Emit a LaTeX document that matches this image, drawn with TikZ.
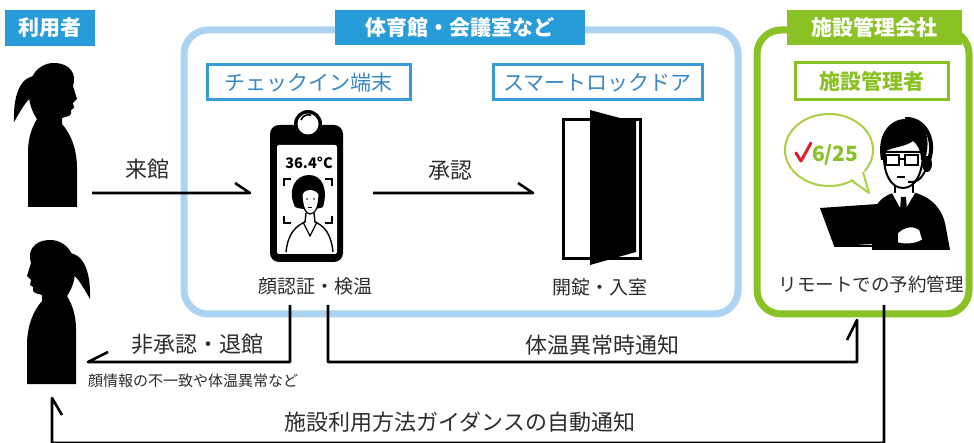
\documentclass[tikz,border=0pt]{standalone}
\usepackage{fontspec}
\setmainfont{Noto Sans CJK JP}
\definecolor{txtgray}{RGB}{45,45,45}
\definecolor{tagblue}{RGB}{40,156,216}
\definecolor{frameblue}{RGB}{172,212,242}
\definecolor{boxblue}{RGB}{55,155,215}
\definecolor{textblue}{RGB}{55,135,195}
\definecolor{leaf}{RGB}{138,194,38}
\definecolor{leaflight}{RGB}{170,208,70}
\definecolor{checkred}{RGB}{220,30,50}

\tikzset{
  woman/.pic={
    % ponytail
    \fill (36,76) .. controls (22,76) and (13,92) .. (14,122)
      .. controls (20,112) and (26,100) .. (33,96) -- cycle;
    % head and upper body
    \fill (28,207) -- (28,152) .. controls (28,138) and (32,127) .. (37,119)
      .. controls (31,110) and (28,100) .. (29,88)
      .. controls (31,70) and (44,62) .. (56,63)
      .. controls (70,64) and (77,74) .. (73,86)
      -- (77,99) -- (73,103) -- (74,108) -- (71,110) -- (71,114)
      .. controls (69,117) and (64,117) .. (62,118)
      -- (62,124) .. controls (70,133) and (77,148) .. (77,168) -- (77,207) -- cycle;
  }
}

\begin{document}
\begin{tikzpicture}[x=1pt,y=-1pt,
  every node/.style={inner sep=0pt,outer sep=0pt},
  txt/.style={text=txtgray,font=\fontsize{22}{24}\selectfont},
  subtxt/.style={text=txtgray,font=\fontsize{19}{22}\selectfont},
  smalltxt/.style={text=txtgray,font=\fontsize{15}{17}\selectfont},
  bluetag/.style={fill=tagblue,text=white,font=\bfseries\fontsize{21}{24}\selectfont},
  greentag/.style={fill=leaf,text=white,font=\bfseries\fontsize{21}{24}\selectfont},
  bluebox/.style={draw=boxblue,line width=3pt,fill=white,text=textblue,font=\fontsize{21}{24}\selectfont},
  greenbox/.style={draw=leaf,line width=3pt,fill=white,text=leaf,font=\bfseries\fontsize{21}{24}\selectfont},
  conn/.style={draw=black,line width=2.6pt,line join=round}
]
\useasboundingbox (0,0) rectangle (974,443);
\fill[white] (0,0) rectangle (974,443);

% group frames
\draw[line width=7pt,draw=frameblue,rounded corners=24pt] (184,30) rectangle (738,314);
\draw[line width=7pt,draw=leaf,rounded corners=24pt] (757,30) rectangle (969,314);

% tags
\node[bluetag,minimum width=90pt,minimum height=36pt] (userTag) at (50,28) {利用者};
\node[bluetag,minimum width=250pt,minimum height=35pt] (venueTag) at (460,27.5) {体育館・会議室など};
\node[greentag,minimum width=175pt,minimum height=35pt] (companyTag) at (874.5,27.5) {施設管理会社};
\node[bluebox,minimum width=203pt,minimum height=35pt] (checkinBox) at (308.5,82.5) {チェックイン端末};
\node[bluebox,minimum width=209pt,minimum height=35pt] (lockBox) at (597.5,82.5) {スマートロックドア};
\node[greenbox,minimum width=153pt,minimum height=37pt] (managerBox) at (871.5,81.5) {施設管理者};

% users
\pic at (0,0) {woman};
\pic[xscale=-1] at (104,177) {woman};

% check-in tablet
\fill[rounded corners=9pt] (270,125) rectangle (343,262);
\fill (308,124) circle (14);
\fill[white] (308,124) circle (10.5);
\draw[line width=1.6pt] (301,120) arc (200:290:8);
\fill[white,rounded corners=2pt] (277,145) rectangle (337,254);
\node[font=\bfseries\fontsize{14.5}{17}\selectfont] (temp) at (309,163) {36.4°C};
\draw[line width=2pt] (284,186) -- (284,179) -- (291,179);
\draw[line width=2pt] (325,179) -- (332,179) -- (332,186);
\draw[line width=2pt] (284,216) -- (284,223) -- (291,223);
\draw[line width=2pt] (325,223) -- (332,223) -- (332,216);
\fill (295,207) .. controls (287,190) and (295,175) .. (309,175)
  .. controls (323,175) and (328,190) .. (323,207)
  .. controls (316,210) and (302,210) .. (295,207) -- cycle;
\filldraw[fill=white,line width=1.2pt] (302,194) .. controls (302,207) and (306,214) .. (310,214)
  .. controls (315,214) and (319,207) .. (319,194)
  .. controls (315,188) and (306,187) .. (302,194) -- cycle;
\fill (302,195) .. controls (305,186) and (312,184) .. (319,192) -- (319,186) -- (302,186) -- cycle;
\fill (307,199) circle (0.9); \fill (314,199) circle (0.9);
\draw[line width=1pt] (308,208) -- (312,208);
\draw[line width=1.4pt] (306,213) -- (305,222) .. controls (296,226) and (288,233) .. (286,252);
\draw[line width=1.4pt] (314,213) -- (315,222) .. controls (324,226) and (331,233) .. (333,252);
\draw[line width=1.2pt] (303,222) -- (310,236) -- (317,222);

% smart lock door
\draw[line width=3pt] (563.5,119.5) rectangle (640.5,258.5);
\fill (590,110) -- (620,118) -- (636,121) -- (636,252) -- (590,265) -- cycle;

% speech bubble
\draw[leaflight,line width=2pt,fill=white] (829,150) ellipse [x radius=44,y radius=36];
\fill[white] (851,178) -- (869,193) -- (864,170) -- cycle;
\draw[leaflight,line width=2pt,line join=round] (851,180) -- (869,193) -- (863,172);
\draw[checkred,line width=3pt,line cap=round,line join=round] (796,153) -- (801,161) -- (811,143);
\node[font=\bfseries\fontsize{21}{24}\selectfont,text=leaf,anchor=west] (date) at (812,155) {6/25};

% manager at laptop
\fill (872,250) -- (872,218) .. controls (874,203) and (884,195) .. (896,192) -- (912,192)
  .. controls (930,196) and (943,208) .. (946,228) -- (950,250) -- cycle;
\filldraw[fill=white,line width=1.5pt] (895,180) -- (895,194) -- (913,194) -- (913,180);
\fill[white] (892,193) -- (903,213) -- (915,193) -- cycle;
\fill (901,197) -- (906,197) -- (907,210) -- (903.5,216) -- (900,210) -- cycle;
\filldraw[fill=white,line width=2pt] (884,152) .. controls (883,172) and (890,188) .. (903,188)
  .. controls (916,188) and (923,172) .. (923,152) -- cycle;
\fill (881,160) .. controls (876,132) and (892,118) .. (907,119)
  .. controls (924,121) and (932,136) .. (925,160) -- (921,160)
  .. controls (921,150) and (917,144) .. (913,141)
  .. controls (905,147) and (893,147) .. (886,151) -- (885,160) -- cycle;
\draw[line width=1.8pt] (886,155) rectangle (899,165);
\draw[line width=1.8pt] (905,155) rectangle (918,165);
\draw[line width=1.5pt] (899,159) -- (905,159);
\draw[line width=1.2pt] (897,177) -- (905,177);
\draw[line width=4pt] (905,119) .. controls (925,118) and (936,140) .. (929,160);
\fill (927,164) ellipse [x radius=5,y radius=8];
\draw[line width=2pt] (925,171) .. controls (921,180) and (915,183) .. (908,182);
\fill (820,208) -- (878,204) -- (894,243) -- (834,246) -- cycle;
\draw[line width=2pt] (834,246) -- (905,246);
\filldraw[fill=white,line width=1.5pt] (897,233) .. controls (905,225) and (915,225) .. (920,230)
  -- (923,240) .. controls (915,245) and (905,245) .. (897,243) -- cycle;

% captions
\node[subtxt] (faceCap) at (315,286) {顔認証・検温};
\node[subtxt] (doorCap) at (600,287) {開錠・入室};
\node[subtxt,font=\fontsize{18.5}{22}\selectfont] (remoteCap) at (871,284) {リモートでの予約管理};

% connector end points
\coordinate (arriveFrom) at (92,193);
\coordinate (arriveTo) at (250,193);
\coordinate (okFrom) at (373,193);
\coordinate (okTo) at (533,193);
\coordinate (ngFrom) at (290,305);
\coordinate (ngTo) at (88,362);
\coordinate (feverFrom) at (328,305);
\coordinate (feverCorner) at (857,362);
\coordinate (feverTo) at (857,320);
\coordinate (guideFrom) at (884,305);
\coordinate (guideCorner) at (52,443);
\coordinate (guideTo) at (52,398);

% connectors, each ending in a one-sided barb
\draw[conn] (arriveFrom) -- (arriveTo) -- ++(-15,-10);
\draw[conn] (okFrom) -- (okTo) -- ++(-15,-10);
\draw[conn] (ngFrom) |- (ngTo) -- ++(20,-10);
\draw[conn] (feverFrom) |- (feverCorner) -- (feverTo) -- ++(-10,20);
\draw[conn] (guideFrom) |- (guideCorner) -- (guideTo) -- ++(10,17);

% connector labels
\node[txt] (arriveLbl) at (147,169) {来館};
\node[txt] (okLbl) at (450,171) {承認};
\node[txt] (ngLbl) at (197,344) {非承認・退館};
\node[smalltxt] (ngNote) at (193,381) {顔情報の不一致や体温異常など};
\node[txt] (feverLbl) at (602,345) {体温異常時通知};
\node[txt] (guideLbl) at (460,422) {施設利用方法ガイダンスの自動通知};
\end{tikzpicture}
\end{document}
